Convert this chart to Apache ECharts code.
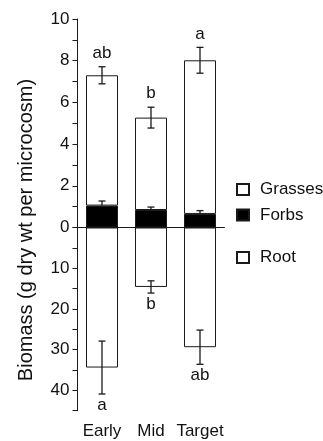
<!DOCTYPE html>
<html lang="en">
<head>
    <meta charset="UTF-8">
    <title>Biomass</title>
    <script src="https://cdn.jsdelivr.net/npm/echarts@6/dist/echarts.min.js"></script>
    <style>
        html, body { margin: 0; padding: 0; background: #fff; }
        #main { width: 323px; height: 441px; }
    </style>
</head>
<body>
    <div id="main"></div>
    <script>
        // data
        var categories = ['Early', 'Mid', 'Target'];
        var forbs = [1.05, 0.84, 0.65];
        var grasses = [6.25, 4.43, 7.37];
        var shootSE = [0.41, 0.50, 0.62];
        var forbSE = [0.22, 0.14, 0.16];
        var roots = [34.4, 14.6, 29.4];
        var rootSE = [6.5, 1.5, 4.2];
        var shootLetters = ['ab', 'b', 'a'];
        var rootLetters = ['a', 'b', 'ab'];

        var ink = '#1a1a1a';
        var font = 'Liberation Sans, Arial, Helvetica, sans-serif';

        function errLine(x, y1, y2) {
            return [
                { type: 'line', shape: { x1: x, y1: y1, x2: x, y2: y2 }, style: { stroke: ink, lineWidth: 1.3 } },
                { type: 'line', shape: { x1: x - 3.5, y1: y1, x2: x + 3.5, y2: y1 }, style: { stroke: ink, lineWidth: 1.3 } },
                { type: 'line', shape: { x1: x - 3.5, y1: y2, x2: x + 3.5, y2: y2 }, style: { stroke: ink, lineWidth: 1.3 } }
            ];
        }

        var shootErr = categories.map(function (c, i) {
            return [i, forbs[i] + grasses[i], shootSE[i], forbs[i], forbSE[i]];
        });
        var rootErr = categories.map(function (c, i) {
            return [i, roots[i], rootSE[i]];
        });

        var chart = echarts.init(document.getElementById('main'));
        chart.setOption({
            animation: false,
            textStyle: { fontFamily: font },
            grid: [
                { left: 77.5, top: 19, width: 147, height: 208.5 },
                { left: 77.5, top: 227.5, width: 147, height: 183.2 }
            ],
            xAxis: [
                {
                    type: 'category', gridIndex: 0, data: categories,
                    axisLine: { lineStyle: { color: ink, width: 1 } },
                    axisTick: { show: false }, axisLabel: { show: false }
                },
                {
                    type: 'category', gridIndex: 1, data: categories, position: 'bottom',
                    axisLine: { show: false }, axisTick: { show: false },
                    axisLabel: { interval: 0, fontSize: 17, color: '#111', margin: 12, fontFamily: font }
                }
            ],
            yAxis: [
                {
                    type: 'value', gridIndex: 0, min: 0, max: 10, interval: 1,
                    axisLine: { show: true, lineStyle: { color: ink, width: 1 } },
                    axisTick: { show: true, length: 5, lineStyle: { color: ink } },
                    splitLine: { show: false },
                    axisLabel: {
                        fontSize: 17, color: '#111', margin: 8, fontFamily: font,
                        formatter: function (v) { return v % 2 === 0 ? String(v) : ''; }
                    }
                },
                {
                    type: 'value', gridIndex: 1, min: 0, max: 45, interval: 5, inverse: true,
                    axisLine: { show: true, lineStyle: { color: ink, width: 1 } },
                    axisTick: { show: true, length: 5, lineStyle: { color: ink } },
                    splitLine: { show: false },
                    axisLabel: {
                        fontSize: 17, color: '#111', margin: 8, fontFamily: font,
                        formatter: function (v) { return (v % 10 === 0 && v > 0) ? String(v) : ''; }
                    }
                }
            ],
            legend: [
                {
                    orient: 'vertical', left: 231, top: 176, itemGap: 8.5,
                    itemWidth: 12, itemHeight: 11, icon: 'rect',
                    textStyle: { fontSize: 17, color: '#111', fontFamily: font, padding: [0, 0, 0, 6] },
                    data: ['Grasses', 'Forbs']
                },
                {
                    orient: 'vertical', left: 231, top: 244,
                    itemWidth: 12, itemHeight: 11, icon: 'rect',
                    textStyle: { fontSize: 17, color: '#111', fontFamily: font, padding: [0, 0, 0, 6] },
                    data: ['Root']
                }
            ],
            graphic: [
                {
                    type: 'text', x: 26, y: 230, rotation: Math.PI / 2,
                    style: {
                        text: 'Biomass (g dry wt per microcosm)', fontSize: 20, fill: '#111',
                        fontFamily: font, align: 'center', verticalAlign: 'middle'
                    }
                }
            ],
            series: [
                {
                    name: 'Forbs', type: 'bar', stack: 'shoot', xAxisIndex: 0, yAxisIndex: 0,
                    barWidth: 32, data: forbs,
                    itemStyle: { color: '#000', borderColor: ink, borderWidth: 1 }
                },
                {
                    name: 'Grasses', type: 'bar', stack: 'shoot', xAxisIndex: 0, yAxisIndex: 0,
                    barWidth: 32, data: grasses,
                    itemStyle: { color: '#fff', borderColor: ink, borderWidth: 1 }
                },
                {
                    name: 'Root', type: 'bar', xAxisIndex: 1, yAxisIndex: 1,
                    barWidth: 32, data: roots,
                    itemStyle: { color: '#fff', borderColor: ink, borderWidth: 1 }
                },
                {
                    type: 'custom', xAxisIndex: 0, yAxisIndex: 0, z: 5,
                    data: shootErr,
                    renderItem: function (params, api) {
                        var i = api.value(0), tot = api.value(1), se = api.value(2);
                        var fb = api.value(3), fse = api.value(4);
                        var hi = api.coord([i, tot + se]);
                        var lo = api.coord([i, tot - se]);
                        var fhi = api.coord([i, fb + fse]);
                        var fb0 = api.coord([i, fb]);
                        var kids = errLine(hi[0], hi[1], lo[1]);
                        kids.push({ type: 'line', shape: { x1: fhi[0], y1: fhi[1], x2: fhi[0], y2: fb0[1] }, style: { stroke: ink, lineWidth: 1.3 } });
                        kids.push({ type: 'line', shape: { x1: fhi[0] - 3.5, y1: fhi[1], x2: fhi[0] + 3.5, y2: fhi[1] }, style: { stroke: ink, lineWidth: 1.3 } });
                        kids.push({
                            type: 'text', x: hi[0], y: hi[1] - 5,
                            style: { text: shootLetters[i], fontSize: 17, fill: '#111', fontFamily: font, align: 'center', verticalAlign: 'bottom' }
                        });
                        return { type: 'group', children: kids };
                    }
                },
                {
                    type: 'custom', xAxisIndex: 1, yAxisIndex: 1, z: 5,
                    data: rootErr,
                    renderItem: function (params, api) {
                        var i = api.value(0), v = api.value(1), se = api.value(2);
                        var a = api.coord([i, v - se]);
                        var b = api.coord([i, v + se]);
                        var kids = errLine(a[0], a[1], b[1]);
                        kids.push({
                            type: 'text', x: b[0], y: b[1] + 3,
                            style: { text: rootLetters[i], fontSize: 17, fill: '#111', fontFamily: font, align: 'center', verticalAlign: 'top' }
                        });
                        return { type: 'group', children: kids };
                    }
                }
            ]
        });
    </script>
</body>
</html>
